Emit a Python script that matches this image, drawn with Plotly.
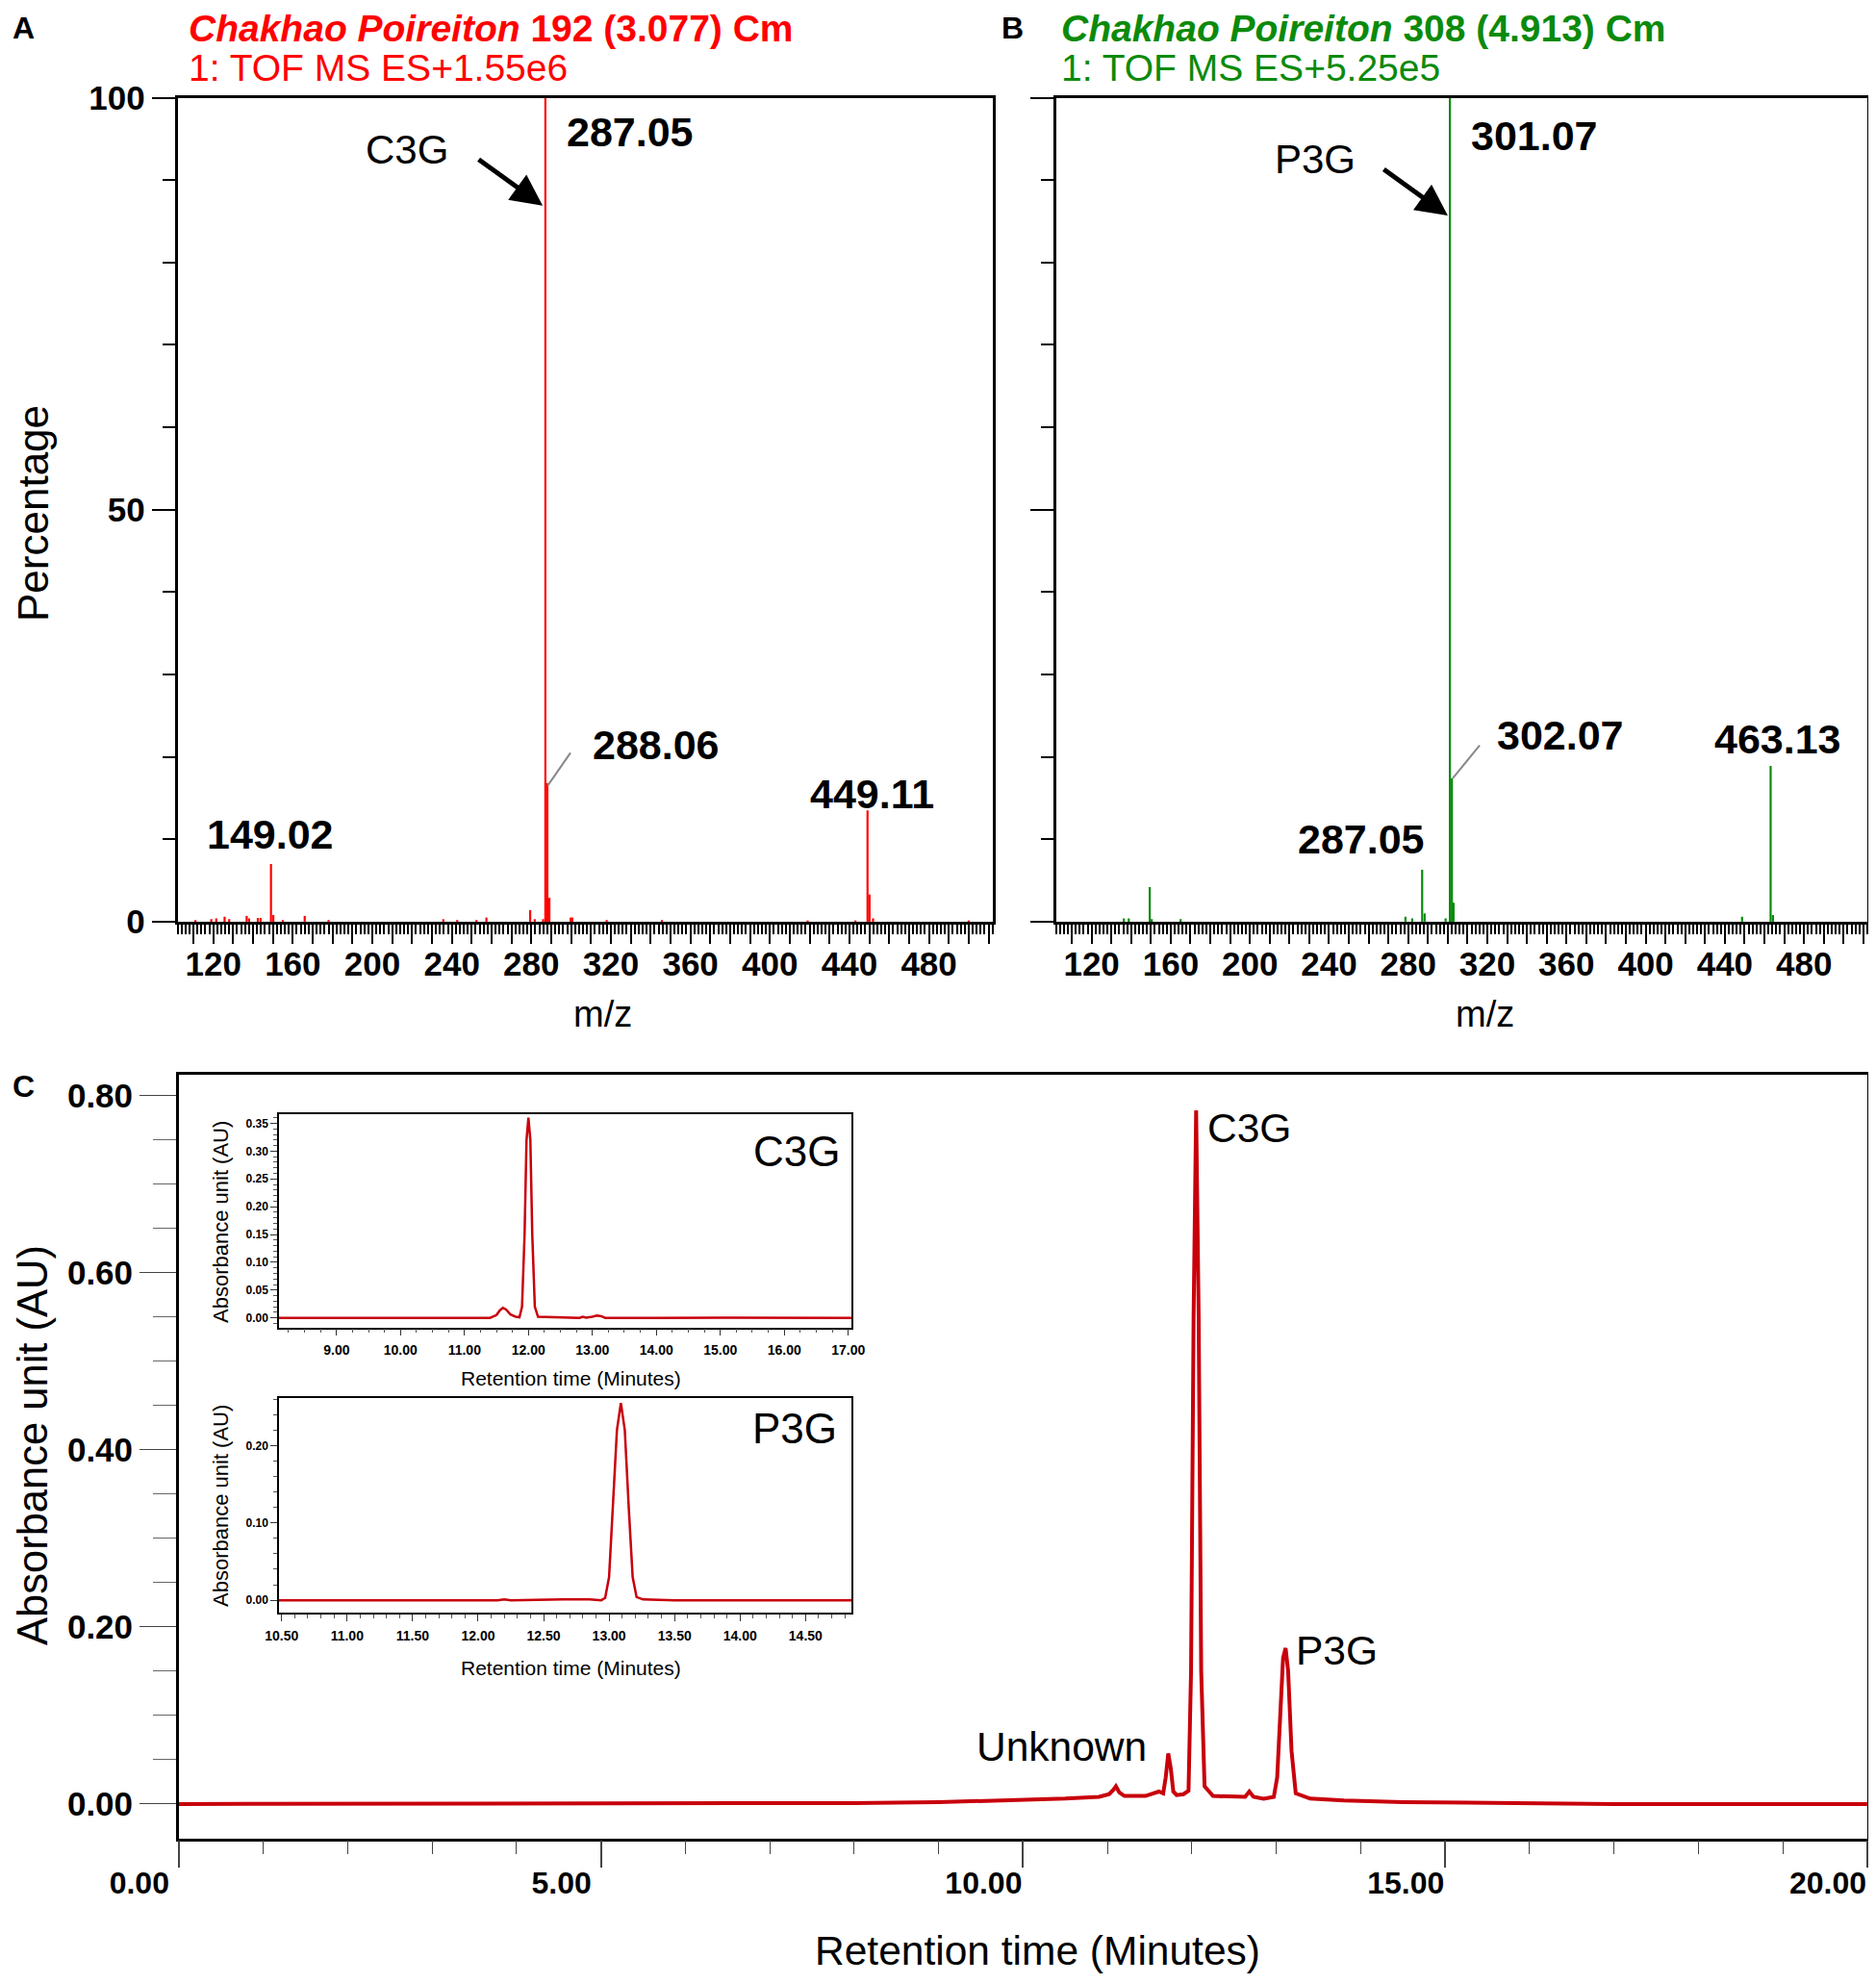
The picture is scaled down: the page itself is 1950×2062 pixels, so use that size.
import plotly.graph_objects as go

# the page body adds an 8px margin, so the figure is 16px smaller than the window
# and every reference pixel position is taken relative to that offset
PAGE_PAD = 8
FIG_W, FIG_H = 1934, 2046

SANS = "Liberation Sans, Arial, sans-serif"

RED = "#ff0000"
GREEN = "#0b8a0b"
DARKRED = "#c8000b"


def px(x):
    return min(1.0, max(0.0, (x - PAGE_PAD) / FIG_W))


def py(y):
    return min(1.0, max(0.0, 1 - (y - PAGE_PAD) / FIG_H))


# ---------------- data ----------------
# A: Chakhao Poireiton 192 (3.077) - m/z and relative abundance (%)
mz_a = [111, 119, 121.5, 125.7, 128, 136.8, 138, 142.4, 143.8, 149.02, 150.2, 155,
        166, 178, 235.7, 242.7, 252.4, 257.4, 279.4, 281.7, 285.9, 287.05, 288.06,
        289.06, 299.8, 300.6, 317.9, 345.7, 419, 443, 449.11, 450.11, 451.9, 500]
int_a = [0.2, 0.3, 0.4, 0.6, 0.3, 0.7, 0.4, 0.45, 0.45, 7.0, 0.8, 0.2,
         0.7, 0.2, 0.3, 0.2, 0.2, 0.5, 1.4, 0.3, 0.3, 100, 16.8,
         2.9, 0.5, 0.5, 0.2, 0.2, 0.15, 0.15, 13.5, 3.3, 0.4, 0.15]

# B: Chakhao Poireiton 308 (4.913)
mz_b = [136.3, 138.8, 149.4, 150.4, 165, 278.6, 282, 287.05, 288.3, 298.9,
        301.07, 302.07, 302.9, 448.7, 463.13, 464.3]
int_b = [0.4, 0.4, 4.2, 0.3, 0.3, 0.6, 0.4, 6.3, 1.0, 0.4,
         100, 17.4, 2.3, 0.6, 18.9, 0.8]

MZ_TICK_LABELS = [120, 160, 200, 240, 280, 320, 360, 400, 440, 480]

# C: HPLC chromatogram (retention time in minutes, absorbance AU)
rt_main = [0.0, 2.0, 4.0, 5.0, 6.5, 8.0, 9.0, 10.0, 10.5, 10.9, 11.02, 11.07, 11.10,
           11.14, 11.2, 11.45, 11.55, 11.61, 11.66, 11.69, 11.72, 11.75, 11.78, 11.82,
           11.9, 11.96, 11.99, 12.02, 12.05, 12.08, 12.11, 12.15, 12.25, 12.5, 12.63,
           12.68, 12.73, 12.85, 12.97, 13.01, 13.05, 13.08, 13.11, 13.14, 13.18, 13.23,
           13.4, 13.8, 14.5, 15.5, 17.0, 20.0]
au_main = [0.0, 0.0, 0.0, 0.0, 0.0005, 0.001, 0.002, 0.004, 0.006, 0.008, 0.011, 0.016, 0.020,
           0.013, 0.009, 0.009, 0.012, 0.014, 0.012, 0.03, 0.057, 0.04, 0.014, 0.010,
           0.011, 0.015, 0.15, 0.55, 0.783, 0.55, 0.15, 0.02, 0.009, 0.008, 0.008,
           0.014, 0.008, 0.006, 0.008, 0.03, 0.12, 0.165, 0.176, 0.15, 0.06, 0.012,
           0.006, 0.004, 0.002, 0.001, 0.0, 0.0]

# inset: C3G standard
rt_c3g = [8.1, 9.5, 10.4, 10.5, 10.6, 11.4, 11.5, 11.55, 11.6, 11.65, 11.72, 11.8,
          11.86, 11.9, 11.94, 11.97, 12.0, 12.03, 12.06, 12.1, 12.15, 12.8, 12.85,
          12.9, 13.0, 13.07, 13.14, 13.2, 14.0, 15.0, 17.05]
au_c3g = [0.0, 0.0, 0.0, 0.001, 0.0, 0.0, 0.005, 0.013, 0.018, 0.015, 0.006, 0.002,
          0.001, 0.02, 0.15, 0.32, 0.36, 0.32, 0.15, 0.02, 0.002, 0.0, 0.002,
          0.0005, 0.002, 0.004, 0.003, 0.0, 0.0, 0.0005, 0.0]

# inset: P3G standard
rt_p3g = [10.48, 11.5, 12.15, 12.2, 12.25, 12.65, 12.75, 12.85, 12.94, 12.97, 13.0,
          13.03, 13.06, 13.09, 13.12, 13.15, 13.18, 13.21, 13.26, 13.5, 14.0, 14.85]
au_p3g = [0.0, 0.0, 0.0, 0.001, 0.0, 0.001, 0.001, 0.001, 0.0, 0.003, 0.03,
          0.12, 0.22, 0.255, 0.22, 0.12, 0.03, 0.004, 0.001, 0.0, 0.0, 0.0]


def sticks(mz, inten):
    xs, ys = [], []
    for m, h in zip(mz, inten):
        xs += [m, m, None]
        ys += [0, h, None]
    return xs, ys


fig = go.Figure()

xa, ya = sticks(mz_a, int_a)
fig.add_trace(go.Scatter(x=xa, y=ya, mode="lines", line=dict(color=RED, width=2.2),
                         xaxis="x", yaxis="y", hoverinfo="skip"))
xb, yb = sticks(mz_b, int_b)
fig.add_trace(go.Scatter(x=xb, y=yb, mode="lines", line=dict(color=GREEN, width=2.2),
                         xaxis="x2", yaxis="y2", hoverinfo="skip"))
fig.add_trace(go.Scatter(x=rt_main, y=au_main, mode="lines", line=dict(color=DARKRED, width=4),
                         xaxis="x3", yaxis="y3"))
fig.add_trace(go.Scatter(x=rt_c3g, y=au_c3g, mode="lines", line=dict(color=DARKRED, width=2.5),
                         xaxis="x4", yaxis="y4"))
fig.add_trace(go.Scatter(x=rt_p3g, y=au_p3g, mode="lines", line=dict(color=DARKRED, width=2.5),
                         xaxis="x5", yaxis="y5"))

# ---------------- axes ----------------
mz_tickvals = list(range(110, 511, 10))
mz_ticktext = [str(v) if v in MZ_TICK_LABELS else "" for v in mz_tickvals]

box = dict(showline=True, linecolor="black", linewidth=2.5, mirror=True,
           showgrid=False, zeroline=False)


def ms_x(domain, anchor):
    return dict(box, domain=domain, anchor=anchor, range=[102, 512],
                ticks="outside", ticklen=20, tickwidth=2, tickcolor="black",
                tickmode="array", tickvals=mz_tickvals, ticktext=mz_ticktext,
                ticklabelstandoff=-9,
                tickfont=dict(family=SANS, size=35, color="black", weight="bold"),
                minor=dict(ticks="outside", ticklen=10, tickwidth=1.5, tickcolor="black",
                           dtick=2, tick0=0))


def ms_y(anchor, labels):
    return dict(box, domain=[py(957.9), py(101.5)], anchor=anchor, range=[0, 100],
                ticks="outside", ticklen=24, tickwidth=2, tickcolor="black",
                tickmode="array", tickvals=[0, 50, 100], showticklabels=labels,
                tickfont=dict(family=SANS, size=35, color="black", weight="bold"),
                minor=dict(ticks="outside", ticklen=13, tickwidth=1.5, tickcolor="black",
                           dtick=10, tick0=0))


fig.update_layout(
    xaxis=ms_x([px(184.5), px(1031.7)], "y"),
    yaxis=ms_y("x", True),
    xaxis2=ms_x([px(1097.6), px(1941)], "y2"),
    yaxis2=ms_y("x2", False),
    xaxis3=dict(box, domain=[px(185.8), px(1941)], anchor="y3", range=[0, 20],
                ticks="outside", ticklen=28, tickwidth=1.5, tickcolor="#444",
                tickmode="linear", tick0=0, dtick=5, tickformat=".2f",
                ticklabelshift=-41, ticklabelstandoff=-12,
                tickfont=dict(family=SANS, size=32, color="black", weight="bold"),
                minor=dict(ticks="outside", ticklen=14, tickwidth=1.2, tickcolor="#444",
                           dtick=1, tick0=0)),
    yaxis3=dict(box, domain=[py(1910.5), py(1117.3)], anchor="x3", range=[-0.0387, 0.823],
                ticks="outside", ticklen=38, tickwidth=1.2, tickcolor="#444",
                tickmode="linear", tick0=0, dtick=0.2, tickformat=".2f",
                tickfont=dict(family=SANS, size=35, color="black", weight="bold"),
                minor=dict(ticks="outside", ticklen=24, tickwidth=1, tickcolor="#666",
                           dtick=0.05, tick0=0)),
    xaxis4=dict(box, linewidth=1.5, domain=[px(290), px(885)], anchor="y4", range=[8.1, 17.05],
                ticks="outside", ticklen=7, tickwidth=1, tickcolor="#333",
                tickmode="linear", tick0=0, dtick=1, tickformat=".2f",
                ticklabelstandoff=3,
                tickfont=dict(family=SANS, size=14, color="black", weight="bold"),
                minor=dict(ticks="outside", ticklen=4, tickwidth=1, tickcolor="#555",
                           dtick=0.25, tick0=0)),
    yaxis4=dict(box, linewidth=1.5, domain=[py(1379.5), py(1158.2)], anchor="x4",
                range=[-0.017, 0.366],
                ticks="outside", ticklen=7, tickwidth=1, tickcolor="#333",
                tickmode="linear", tick0=0, dtick=0.05, tickformat=".2f",
                tickfont=dict(family=SANS, size=12, color="black", weight="bold"),
                minor=dict(ticks="outside", ticklen=4, tickwidth=1, tickcolor="#555",
                           dtick=0.01, tick0=0)),
    xaxis5=dict(box, linewidth=1.5, domain=[px(290), px(885)], anchor="y5", range=[10.48, 14.85],
                ticks="outside", ticklen=7, tickwidth=1, tickcolor="#333",
                tickmode="linear", tick0=0, dtick=0.5, tickformat=".2f",
                ticklabelstandoff=3,
                tickfont=dict(family=SANS, size=14, color="black", weight="bold"),
                minor=dict(ticks="outside", ticklen=4, tickwidth=1, tickcolor="#555",
                           dtick=0.1, tick0=0)),
    yaxis5=dict(box, linewidth=1.5, domain=[py(1676), py(1453.3)], anchor="x5",
                range=[-0.016, 0.261],
                ticks="outside", ticklen=7, tickwidth=1, tickcolor="#333",
                tickmode="linear", tick0=0, dtick=0.1, tickformat=".2f",
                tickfont=dict(family=SANS, size=12, color="black", weight="bold"),
                minor=dict(ticks="outside", ticklen=4, tickwidth=1, tickcolor="#555",
                           dtick=0.02, tick0=0)),
)

# ---------------- text ----------------
ann = []


def paper_text(x, y, text, size, color="black", angle=0, xanchor="center"):
    ann.append(dict(xref="paper", yref="paper", x=px(x), y=py(y), text=text,
                    showarrow=False, textangle=angle, xanchor=xanchor, yanchor="middle",
                    font=dict(family=SANS, size=size, color=color)))


def data_text(xr, yr, x, y, text, size, bold=True):
    ann.append(dict(xref=xr, yref=yr, x=x, y=y, text=f"<b>{text}</b>" if bold else text,
                    showarrow=False, xanchor="center", yanchor="middle",
                    font=dict(family=SANS, size=size, color="black")))


# panel letters + scan headers
paper_text(24, 29, "<b>A</b>", 32)
paper_text(1052, 29, "<b>B</b>", 32)
paper_text(24, 1129, "<b>C</b>", 32)
paper_text(194, 30, "<b><i>Chakhao Poireiton</i> 192 (3.077) Cm</b>", 39, RED, xanchor="left")
paper_text(194, 71, "1: TOF MS ES+1.55e6", 39, RED, xanchor="left")
paper_text(1101, 30, "<b><i>Chakhao Poireiton</i> 308 (4.913) Cm</b>", 39, GREEN, xanchor="left")
paper_text(1101, 71, "1: TOF MS ES+5.25e5", 39, GREEN, xanchor="left")

# axis titles
paper_text(34, 534, "Percentage", 44, angle=-90)
paper_text(626, 1054, "m/z", 38)
paper_text(1543, 1054, "m/z", 38)
paper_text(34, 1502, "Absorbance unit (AU)", 43.5, angle=-90)
paper_text(1078, 2027, "Retention time (Minutes)", 42.5)
paper_text(593, 1432, "Retention time (Minutes)", 21)
paper_text(229, 1270, "Absorbance unit (AU)", 22, angle=-90)
paper_text(593, 1733, "Retention time (Minutes)", 21)
paper_text(229, 1565, "Absorbance unit (AU)", 22, angle=-90)

# peak labels, panel A
data_text("x", "y", 329.6, 95.9, "287.05", 43)
data_text("x", "y", 217.4, 93.7, "C3G", 42, bold=False)
data_text("x", "y", 343.0, 21.5, "288.06", 43)
data_text("x", "y", 451.5, 15.5, "449.11", 43)
data_text("x", "y", 148.5, 10.6, "149.02", 43)
# peak labels, panel B
data_text("x2", "y2", 344.0, 95.4, "301.07", 43)
data_text("x2", "y2", 232.9, 92.5, "P3G", 42, bold=False)
data_text("x2", "y2", 356.8, 22.6, "302.07", 43)
data_text("x2", "y2", 466.7, 22.2, "463.13", 43)
data_text("x2", "y2", 256.5, 10.0, "287.05", 43)
# chromatogram labels
data_text("x3", "y3", 12.68, 0.763, "C3G", 42.5, bold=False)
data_text("x3", "y3", 13.72, 0.173, "P3G", 42.5, bold=False)
data_text("x3", "y3", 10.46, 0.0644, "Unknown", 42.5, bold=False)
data_text("x4", "y4", 16.2, 0.300, "C3G", 44, bold=False)
data_text("x5", "y5", 14.42, 0.222, "P3G", 44, bold=False)

# arrows to the base peaks
for xr, yr, xt, yt in [("x", "y", 285.7, 86.9), ("x2", "y2", 300.0, 85.7)]:
    ann.append(dict(xref=xr, yref=yr, x=xt, y=yt, ax=-68, ay=-49, text="",
                    showarrow=True, arrowhead=2, arrowsize=1.3, arrowwidth=5,
                    arrowcolor="black"))

fig.update_layout(
    annotations=ann,
    shapes=[
        dict(type="line", xref="x", yref="y", x0=288.2, y0=16.5, x1=299.7, y1=20.5,
             line=dict(color="#888", width=2)),
        dict(type="line", xref="x2", yref="y2", x0=302.5, y0=17.4, x1=316.1, y1=21.4,
             line=dict(color="#888", width=2)),
    ],
    width=FIG_W, height=FIG_H,
    margin=dict(l=0, r=0, t=0, b=0, autoexpand=False),
    paper_bgcolor="white", plot_bgcolor="white",
    showlegend=False,
)

fig.write_html("out.html")
